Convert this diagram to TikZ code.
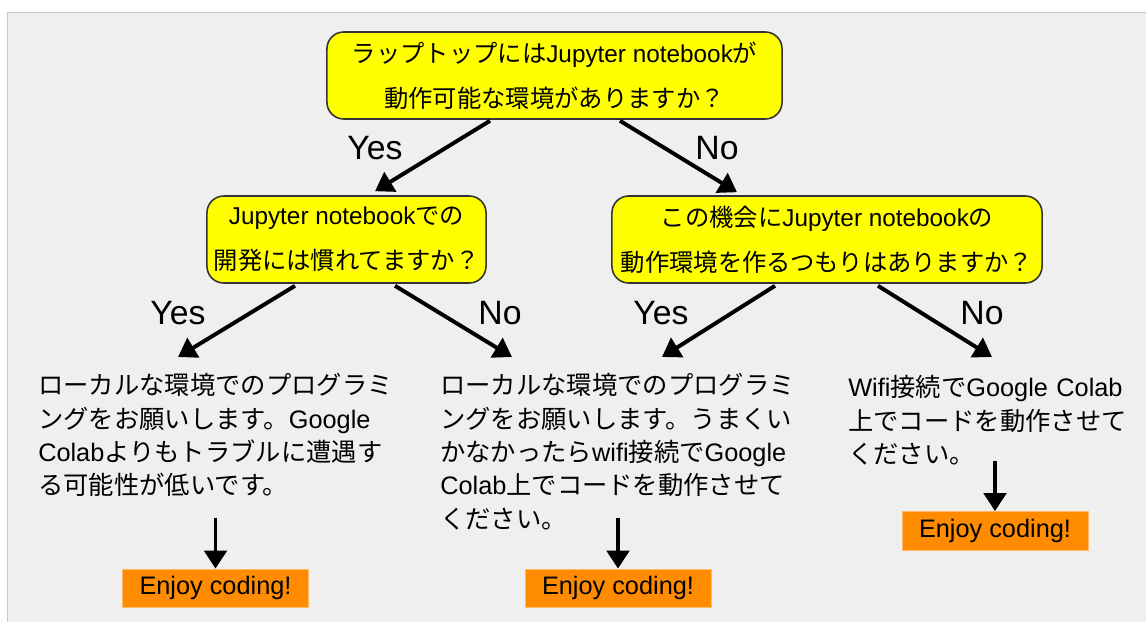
\documentclass[tikz,border=0pt]{standalone}
\usepackage{fontspec}
\setmainfont{Liberation Sans}
\newfontfamily\jp{Noto Sans CJK JP}
\usetikzlibrary{arrows.meta,calc}

\definecolor{bggray}{HTML}{EFEFEF}
\definecolor{bgline}{HTML}{C8C8C8}
\definecolor{qyellow}{HTML}{FFFF00}
\definecolor{qline}{HTML}{333333}
\definecolor{enjoy}{HTML}{FF8C00}

\tikzset{
  question/.style={draw=qline, line width=1.1pt, fill=qyellow, rounded corners=0.42cm,
    align=center, inner sep=0pt, minimum height=2.175cm,
    font=\fontsize{17.3}{32}\selectfont},
  answer/.style={anchor=north west, align=left, inner sep=0pt,
    font=\fontsize{18}{23.8}\selectfont},
  enjoybox/.style={fill=enjoy, draw=enjoy!60, line width=0.3pt, inner sep=0pt,
    minimum width=4.65cm, minimum height=0.96cm, font=\fontsize{18}{22}\selectfont},
  yesno/.style={inner sep=0pt, font=\fontsize{24}{28}\selectfont},
  arr/.style={line width=2.8pt, -{Triangle[length=0.45cm,width=0.56cm]}}
}

\begin{document}
\begin{tikzpicture}[x=0.025cm, y=-0.025cm]
\useasboundingbox (0,0) rectangle (1146,621);
\clip (0,0) rectangle (1146,621);
% background panel
\fill[white] (0,0) rectangle (1146,621);
\draw[bgline, fill=bggray, line width=0.6pt] (7,12) rectangle (1170,650);

% questions
\node[question, minimum width=11.375cm] (q1) at (554.5,75.5)
  {{\jp ラップトップには}Jupyter notebook{\jp が}\\{\jp 動作可能な環境がありますか？}};
\node[question, minimum width=6.975cm] (q2) at (346.5,239.5)
  {Jupyter notebook{\jp での}\\{\jp 開発には慣れてますか？}};
\node[question, minimum width=10.75cm] (q3) at (827,239.5)
  {{\jp この機会に}Jupyter notebook{\jp の}\\{\jp 動作環境を作るつもりはありますか？}};

% answers
\node[answer, text width=9.2cm] (a1) at (38,373)
  {{\jp ローカルな環境でのプログラミ}\\{\jp ングをお願いします。}Google\\Colab{\jp よりもトラブルに遭遇す}\\{\jp る可能性が低いです。}};
\node[answer, text width=9.2cm] (a2) at (440,373)
  {{\jp ローカルな環境でのプログラミ}\\{\jp ングをお願いします。うまくい}\\{\jp かなかったら}wifi{\jp 接続で}Google\\Colab{\jp 上でコードを動作させて}\\{\jp ください。}};
\node[answer, text width=7.2cm] (a3) at (848,375)
  {Wifi{\jp 接続で}Google Colab\\{\jp 上でコードを動作させて}\\{\jp ください。}};

% end boxes
\node[enjoybox] (e1) at (215.5,588) {Enjoy coding!};
\node[enjoybox] (e2) at (618,588) {Enjoy coding!};
\node[enjoybox] (e3) at (995,530.5) {Enjoy coding!};

% yes / no labels
\node[yesno] (y1) at (375,148) {Yes};
\node[yesno] (n1) at (717,148) {No};
\node[yesno] (y2) at (178,313) {Yes};
\node[yesno] (n2) at (500,313) {No};
\node[yesno] (y3) at (661,313) {Yes};
\node[yesno] (n3) at (982,313) {No};

% arrows
\draw[arr] ($(q1.south)+(-64.5,1)$) -- ($(q2.north)+(28.5,-4)$);
\draw[arr] ($(q1.south)+(65.5,1)$) -- ($(q3.north)+(-90,-3)$);
\draw[arr] ($(q2.south)+(-51.5,2)$) -- ($(a1.north west)+(140,-16)$);
\draw[arr] ($(q2.south)+(48.5,2)$) -- ($(a2.north west)+(72,-16)$);
\draw[arr] ($(q3.south)+(-52,2)$) -- ($(a2.north west)+(222,-16)$);
\draw[arr] ($(q3.south)+(51,2)$) -- ($(a3.north west)+(144,-18)$);
\draw[arr] ($(e1.north)+(0,-51)$) -- (e1.north);
\draw[arr] ($(e2.north)+(0,-51)$) -- (e2.north);
\draw[arr] ($(e3.north)+(0,-50)$) -- (e3.north);
\end{tikzpicture}
\end{document}
